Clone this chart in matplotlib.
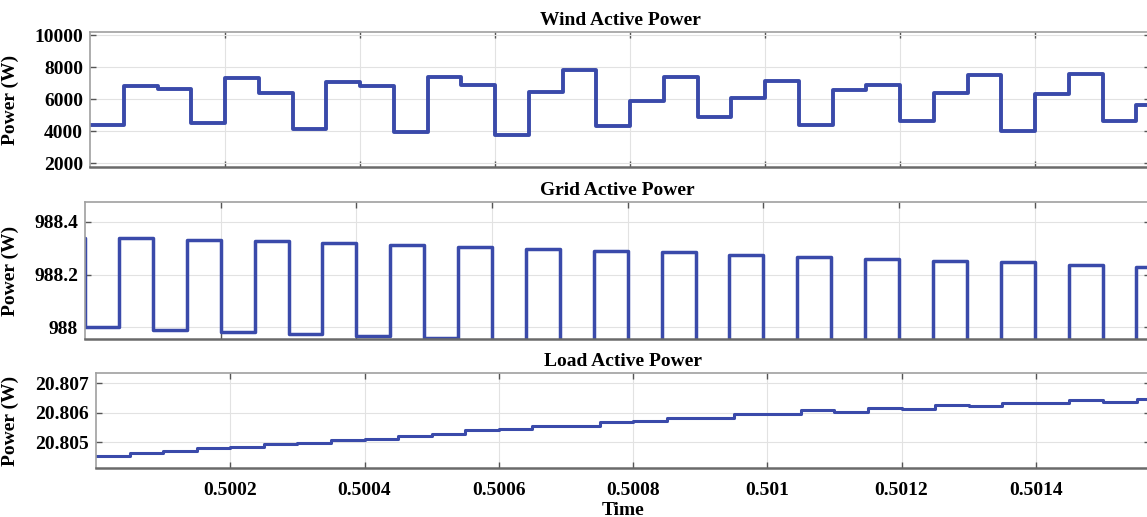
import numpy as np
import matplotlib.pyplot as plt

# sample period of the logged signals (s)
Ts = 5e-5
t0 = 0.5

wind_p = [4400, 6850, 6650, 4500, 7350, 6400, 4100, 7100, 6850, 3950, 7400, 6900,
          3750, 6450, 7800, 4300, 5900, 7400, 4850, 6050, 7150, 4400, 6550, 6900,
          4600, 6400, 7500, 4000, 6300, 7600, 4600, 5600]

# first entry is the sample just before t0
grid_p = [988.340, 988.000, 988.339, 987.990, 988.333, 987.981, 988.328, 987.974,
          988.320, 987.968, 988.313, 987.960, 988.306, 987.953, 988.297, 987.945,
          988.290, 987.937, 988.284, 987.930, 988.275, 987.922, 988.268, 987.915,
          988.260, 987.907, 988.253, 987.900, 988.246, 987.892, 988.238, 987.885,
          988.229]

load_p = [20.80453, 20.80464, 20.80469, 20.80481, 20.80483, 20.80494, 20.80497,
          20.80508, 20.80511, 20.80522, 20.80526, 20.80540, 20.80544, 20.80553,
          20.80556, 20.80567, 20.80570, 20.80580, 20.80583, 20.80594, 20.80595,
          20.80607, 20.80603, 20.80614, 20.80613, 20.80625, 20.80621, 20.80633,
          20.80634, 20.80642, 20.80637, 20.80647]

wind_ticks = [2000, 4000, 6000, 8000, 10000]
wind_ticklabels = ['2000', '4000', '6000', '8000', '10000']
grid_ticks = [988, 988.2, 988.4]
grid_ticklabels = ['988', '988.2', '988.4']
load_ticks = [20.805, 20.806, 20.807]
load_ticklabels = ['20.805', '20.806', '20.807']
time_ticks = [0.5002, 0.5004, 0.5006, 0.5008, 0.501, 0.5012, 0.5014]
time_ticklabels = ['0.5002', '0.5004', '0.5006', '0.5008', '0.501', '0.5012', '0.5014']

plt.rcParams['font.family'] = 'Liberation Serif'
plt.rcParams['font.weight'] = 'bold'

W, H = 1147, 517
fig = plt.figure(figsize=(W / 100, H / 100), dpi=100)


def px_axes(left, top, bottom, right=1150):
    return fig.add_axes([left / W, 1 - bottom / H, (right - left) / W, (bottom - top) / H])


def style(ax, left, title, ticks, ticklabels, ylim):
    ax.set_xlim(t0, 0.50157)
    ax.set_ylim(*ylim)
    ax.set_yticks(ticks)
    ax.set_yticklabels(ticklabels, fontsize=14, fontweight='bold', color='black')
    ax.set_xticks(time_ticks)
    ax.grid(True, color='#e2e2e2', linewidth=0.8)
    ax.set_axisbelow(True)
    ax.tick_params(direction='in', length=4, width=1, colors='#555555',
                   top=True, right=True, labelsize=14, pad=5, labelcolor='black')
    for s in ax.spines.values():
        s.set_color('#a0a0a0')
        s.set_linewidth(1.2)
    ax.spines['bottom'].set_color('#6a6a6a')
    ax.spines['bottom'].set_linewidth(1.8)
    ax.set_title(title, fontsize=14, fontweight='bold', pad=5)
    ax.set_ylabel('Power (W)', fontsize=14, fontweight='bold')
    ax.yaxis.set_label_coords((19 - left) / (1150 - left), 0.5)


line_kw = dict(color='#3a4aaa', where='post', solid_joinstyle='round')

# wind
ax1 = px_axes(90, 32, 167)
t_w = t0 + Ts * np.arange(len(wind_p) + 1)
ax1.step(t_w, wind_p + [wind_p[-1]], linewidth=2.8, **line_kw)
style(ax1, 90, 'Wind Active Power', wind_ticks, wind_ticklabels, (1750, 10200))
ax1.tick_params(labelbottom=False)

# grid
ax2 = px_axes(85, 202, 339)
t_g = t0 + Ts * np.arange(-1, len(grid_p))
ax2.step(t_g, grid_p + [grid_p[-1]], linewidth=2.5, **line_kw)
style(ax2, 85, 'Grid Active Power', grid_ticks, grid_ticklabels, (987.955, 988.476))
ax2.tick_params(labelbottom=False)

# load
ax3 = px_axes(96, 373, 468)
t_l = t0 + Ts * np.arange(len(load_p) + 1)
ax3.step(t_l, load_p + [load_p[-1]], linewidth=2.2, **line_kw)
style(ax3, 96, 'Load Active Power', load_ticks, load_ticklabels, (20.80412, 20.80734))
ax3.set_xticklabels(time_ticklabels, fontsize=14, fontweight='bold', color='black')
ax3.tick_params(axis='x', pad=10)
ax3.set_xlabel('Time', fontsize=14, fontweight='bold', labelpad=2)

fig.savefig('out.png', dpi=100)
